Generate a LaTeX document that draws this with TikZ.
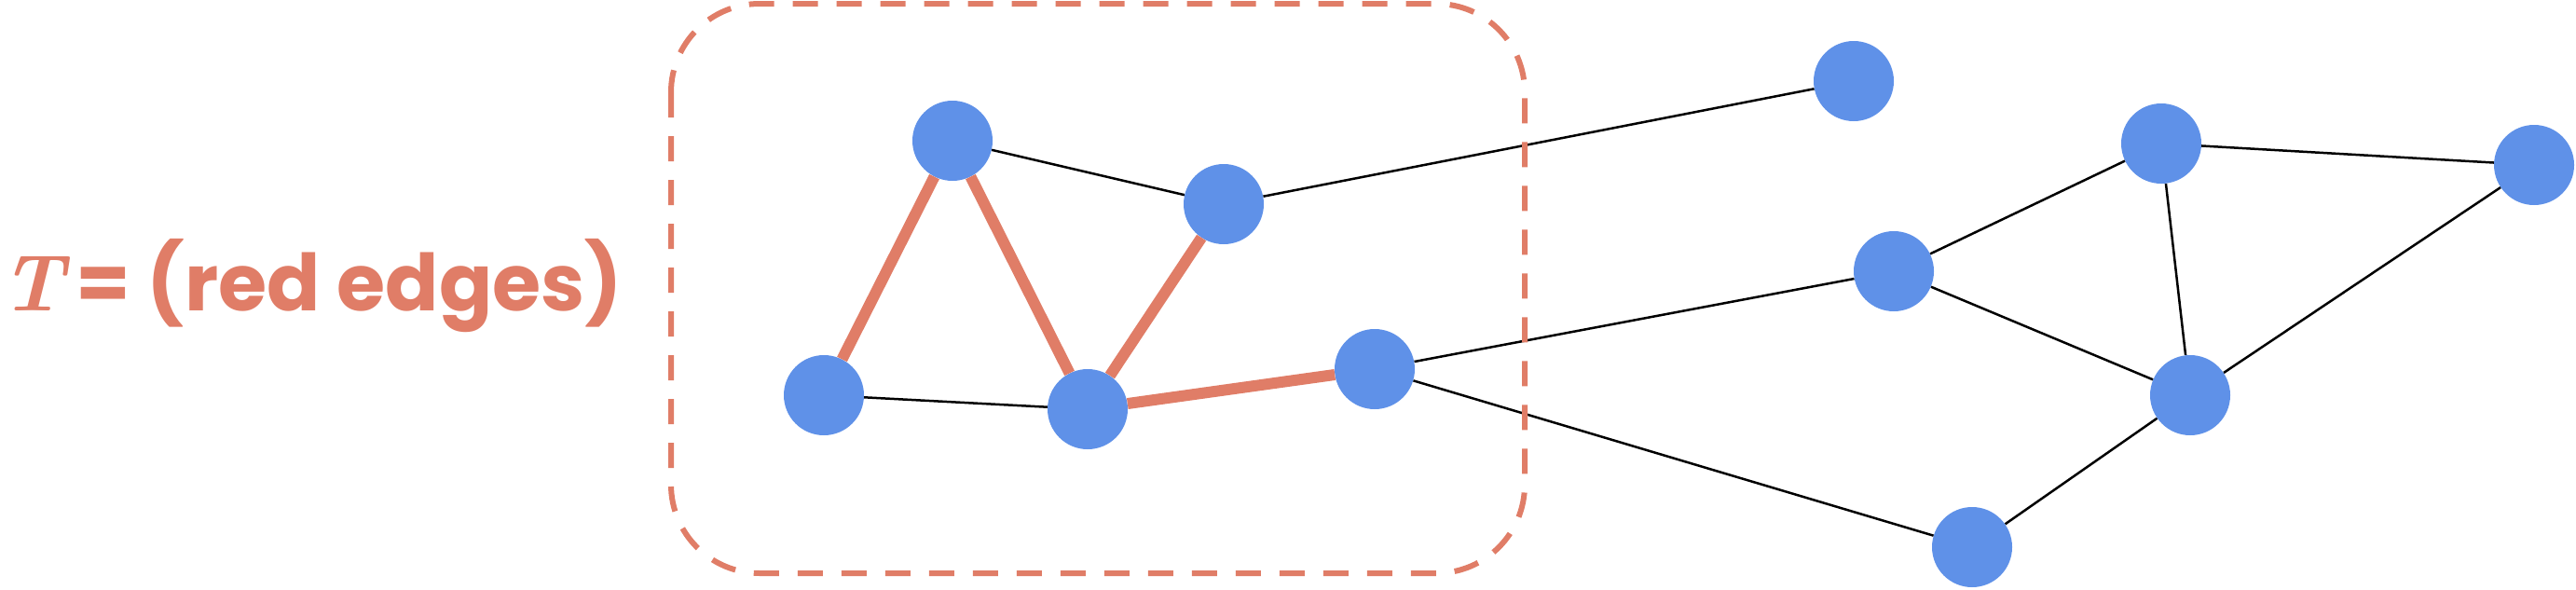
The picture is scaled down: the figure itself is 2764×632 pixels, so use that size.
\documentclass[tikz,border=0pt]{standalone}
\usepackage{fontspec}
\newfontfamily\pop{Poppins}
\usetikzlibrary{backgrounds}
\definecolor{edgered}{HTML}{E07D67}
\definecolor{nodeblue}{HTML}{5F91E8}
\begin{document}
\begin{tikzpicture}[x=1pt,y=-1pt,
  vertex/.style={circle,fill=nodeblue,minimum size=86pt,inner sep=0pt},
  plain/.style={draw=black,line width=2.5pt},
  tree/.style={draw=edgered,line width=12pt},
  region/.style={draw=edgered,line width=6pt,dash pattern=on 27pt off 20pt,rounded corners=95pt},
  caption/.style={anchor=base west,inner sep=0pt,text=edgered,font=\fontsize{86}{100}\selectfont}]
\useasboundingbox (0,0) rectangle (2764,632);
\node[caption] (label) at (0,333) {\textbf{\textit{T}}\hspace{6pt}{\pop\bfseries\fontsize{84.5}{100}\selectfont = (red edges)}};
\draw[region] (720,4) rectangle (1636,615);
\node[vertex] (A) at (1022,151) {};
\node[vertex] (B) at (1313,219) {};
\node[vertex] (C) at (884,424) {};
\node[vertex] (D) at (1167,439) {};
\node[vertex] (E) at (1475,396) {};
\node[vertex] (F) at (1989,87) {};
\node[vertex] (G) at (2319,154) {};
\node[vertex] (H) at (2719,177) {};
\node[vertex] (I) at (2032,291) {};
\node[vertex] (J) at (2350,424) {};
\node[vertex] (K) at (2116,587) {};
\begin{scope}[on background layer]
\draw[plain] (A) -- (B);
\draw[plain] (B) -- (F);
\draw[plain] (C) -- (D);
\draw[plain] (E) -- (I);
\draw[plain] (E) -- (K);
\draw[plain] (I) -- (G);
\draw[plain] (I) -- (J);
\draw[plain] (G) -- (H);
\draw[plain] (G) -- (J);
\draw[plain] (H) -- (J);
\draw[plain] (J) -- (K);
\end{scope}
\draw[tree] (A) -- (C);
\draw[tree] (A) -- (D);
\draw[tree] (B) -- (D);
\draw[tree] (D) -- (E);
\end{tikzpicture}
\end{document}
